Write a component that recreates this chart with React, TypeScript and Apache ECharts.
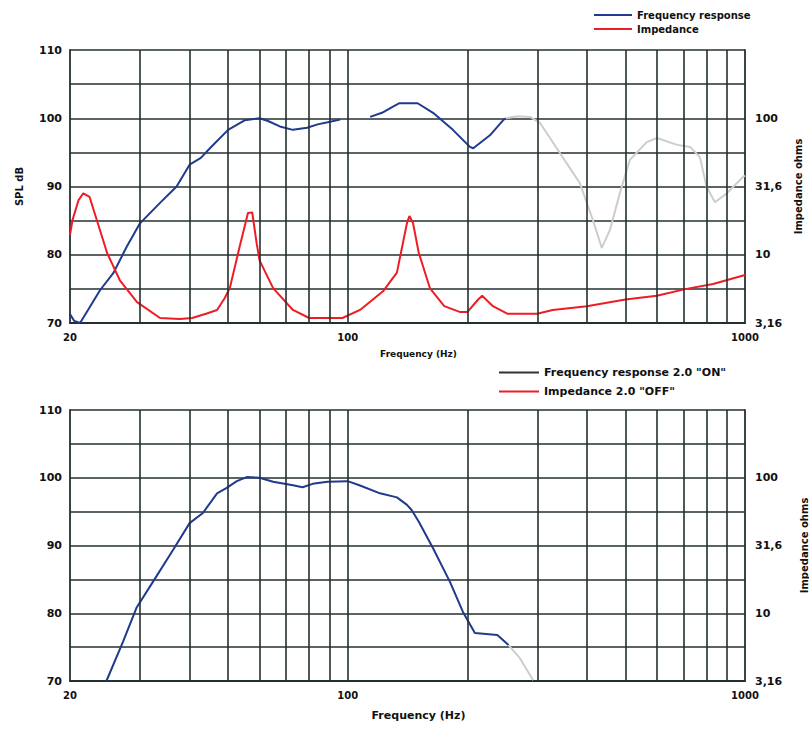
import React, { useEffect, useRef } from 'react';
import * as echarts from 'echarts';

// ---------- data ----------
const gridFreqs = [30, 40, 50, 60, 70, 80, 90, 100, 200, 300, 400, 500, 600, 700, 800, 900];
const impTickLabels = ['3,16', '10', '31,6', '100'];

// top panel: frequency response (blue part, null = gap)
const topSplFreq = [20, 20.5, 21.2, 22.2, 23.8, 25.7, 27.8, 30, 33.7, 37.1, 40, 42.7, 45, 50, 55, 60, 63, 67.5, 72.8, 79, 84, 89, 95.7, 104, 113.9, 122, 130, 135, 150, 164, 184, 203, 207, 228, 246, 250];
const topSplDb = [71.3, 70.3, 70.0, 71.9, 74.8, 77.3, 81.2, 84.6, 87.6, 90.0, 93.2, 94.2, 95.6, 98.3, 99.7, 100.0, 99.6, 98.8, 98.3, 98.6, 99.1, 99.4, 99.8, null, 100.2, 100.8, 101.7, 102.2, 102.2, 100.8, 98.3, 95.8, 95.6, 97.5, 99.7, 100.0];
// top panel: frequency response (grey part, above 250 Hz)
const topSplHiFreq = [250, 268, 288, 305, 342, 384, 414, 436, 457, 484, 513, 566, 600, 675, 727, 770, 800, 840, 900, 988, 1000];
const topSplHiDb = [100.0, 100.3, 100.2, 99.3, 94.9, 90.5, 85.1, 81.0, 83.6, 89.0, 93.9, 96.5, 97.1, 96.1, 95.8, 94.3, 90.0, 87.7, 89.0, 91.4, 91.6];
// top panel: impedance (ohms)
const topImpFreq = [20, 20.3, 21, 21.6, 22.4, 23.5, 24.8, 26.7, 29.5, 33.7, 37.8, 40.6, 44, 46.9, 49, 50.5, 53.4, 56.1, 57.5, 59, 60, 64.9, 72.8, 80, 97, 107.4, 122.7, 133, 141, 143, 146, 151, 161, 175, 192, 200, 213, 218, 232, 252, 300, 328, 400, 500, 600, 707, 831, 1000];
const topImpOhm = [14, 18, 25, 28.2, 26.5, 17, 10.3, 6.5, 4.5, 3.44, 3.38, 3.44, 3.7, 3.94, 4.8, 5.7, 11.3, 20.2, 20.4, 12.1, 9.1, 5.7, 3.94, 3.44, 3.44, 3.94, 5.4, 7.4, 17.1, 19.2, 17.1, 10.3, 5.7, 4.2, 3.8, 3.8, 4.7, 5.0, 4.2, 3.7, 3.7, 3.94, 4.2, 4.7, 5.0, 5.6, 6.1, 7.1];

// bottom panel: frequency response 2.0 "ON"
const botSplFreq = [24.7, 27.2, 29.4, 32.4, 36.3, 40, 43.2, 46.9, 49.6, 52.6, 55.7, 60, 64.9, 72.8, 77, 81.6, 89, 100, 107, 120.6, 133, 141, 145, 151, 164, 181, 195, 209, 238, 254];
const botSplDb = [70.0, 75.8, 80.8, 84.7, 89.3, 93.3, 94.8, 97.7, 98.5, 99.5, 100.1, 100.0, 99.4, 98.9, 98.6, 99.1, 99.4, 99.5, 98.9, 97.7, 97.1, 96.0, 95.2, 93.5, 89.6, 84.6, 80.2, 77.1, 76.8, 75.3];
const botSplHiFreq = [254, 271, 293];
const botSplHiDb = [75.3, 73.4, 70.1];

// ---------- styles ----------
const FONT = 'DejaVu Sans';
const GRID_COLOR = '#243030';
const BLUE = '#1f3a8f';
const RED = '#ee1d25';
const GREY = '#cdcdcd';

const zip = (f: number[], v: (number | null)[]) => f.map((x, i) => [x, v[i] === null ? '-' : v[i]]);

const impFormatter = (v: number) => {
  if (v < 5) return impTickLabels[0];
  if (v < 20) return impTickLabels[1];
  if (v < 60) return impTickLabels[2];
  if (v < 200) return impTickLabels[3];
  return '';
};

function makeX(gridIndex: number, nameSize: number, nameGap: number) {
  return {
    type: 'log',
    logBase: 10,
    gridIndex,
    min: 20,
    max: 1000,
    name: 'Frequency (Hz)',
    nameLocation: 'middle',
    nameGap,
    nameTextStyle: { fontFamily: FONT, fontWeight: 'bold', fontSize: nameSize, color: '#111', padding: [0, 0, 0, 22] },
    axisLine: { show: true, onZero: false, lineStyle: { color: GRID_COLOR, width: 1.8 } },
    axisTick: { show: false },
    splitLine: { show: false },
    minorSplitLine: { show: false },
    axisLabel: {
      fontFamily: FONT, fontWeight: 'bold', fontSize: 10, color: '#111', margin: 9,
      formatter: (v: number) => String(Math.round(v)),
    },
  };
}

function makeLeftY(gridIndex: number, name: string) {
  return {
    type: 'value',
    gridIndex,
    min: 70,
    max: 110,
    interval: 5,
    position: 'left',
    name,
    nameLocation: 'middle',
    nameGap: 46,
    nameTextStyle: { fontFamily: FONT, fontWeight: 'bold', fontSize: 10, color: '#111' },
    axisLine: { show: true, onZero: false, lineStyle: { color: GRID_COLOR, width: 1.8 } },
    axisTick: { show: false },
    splitLine: { show: true, lineStyle: { color: GRID_COLOR, width: 1.6 } },
    axisLabel: {
      fontFamily: FONT, fontWeight: 'bold', fontSize: 11, color: '#111', margin: 8,
      formatter: (v: number) => (v % 10 === 0 ? String(v) : ''),
    },
  };
}

function makeRightY(gridIndex: number, nameGap: number) {
  return {
    type: 'log',
    logBase: Math.sqrt(10),
    gridIndex,
    min: 3.16228,
    max: 316.228,
    splitNumber: 4,
    position: 'right',
    name: 'Impedance ohms',
    nameLocation: 'middle',
    nameGap,
    nameTextStyle: { fontFamily: FONT, fontWeight: 'bold', fontSize: 10, color: '#111' },
    axisLine: { show: true, onZero: false, lineStyle: { color: GRID_COLOR, width: 1.8 } },
    axisTick: { show: false },
    splitLine: { show: false },
    axisLabel: { fontFamily: FONT, fontWeight: 'bold', fontSize: 11, color: '#111', margin: 10, formatter: impFormatter },
  };
}

function gridLinesSeries(xAxisIndex: number, yAxisIndex: number) {
  return {
    type: 'line',
    xAxisIndex,
    yAxisIndex,
    data: [],
    z: 1,
    silent: true,
    markLine: {
      silent: true,
      symbol: ['none', 'none'],
      label: { show: false },
      lineStyle: { color: GRID_COLOR, width: 1.6, type: 'solid' },
      data: gridFreqs.map((f) => ({ xAxis: f })),
    },
  };
}

function lineSeries(name: string | undefined, xAxisIndex: number, yAxisIndex: number, data: any[], color: string, width = 2) {
  return {
    type: 'line',
    name,
    xAxisIndex,
    yAxisIndex,
    data,
    z: 3,
    symbol: 'none',
    showSymbol: false,
    connectNulls: false,
    lineStyle: { color, width },
    itemStyle: { color },
  };
}

export default function App() {
  const ref = useRef<HTMLDivElement>(null);
  useEffect(() => {
    if (!ref.current) return;
    const chart = echarts.init(ref.current, undefined, { renderer: 'svg' });
    const legendText = { fontFamily: FONT, fontWeight: 'bold', fontSize: 10, color: '#111' };
    chart.setOption({
      animation: false,
      backgroundColor: '#ffffff',
      textStyle: { fontFamily: FONT },
      legend: [
        {
          orient: 'vertical',
          left: 589,
          top: 5,
          icon: 'rect',
          itemWidth: 38,
          itemHeight: 2,
          itemGap: 4,
          textStyle: legendText,
          data: ['Frequency response', 'Impedance'],
        },
        {
          orient: 'vertical',
          left: 494,
          top: 362,
          icon: 'rect',
          itemWidth: 40,
          itemHeight: 2,
          itemGap: 8,
          textStyle: { ...legendText, fontSize: 11 },
          data: [
            { name: 'Frequency response 2.0 "ON"', itemStyle: { color: '#333' } },
            { name: 'Impedance 2.0 "OFF"' },
          ],
        },
      ],
      grid: [
        { left: 70, right: 64, top: 50, height: 273, outerBoundsMode: 'none', containLabel: false },
        { left: 70, right: 64, top: 410, height: 271, outerBoundsMode: 'none', containLabel: false },
      ],
      xAxis: [makeX(0, 9, 26), makeX(1, 11, 29)],
      yAxis: [makeLeftY(0, 'SPL dB'), makeRightY(0, 46), makeLeftY(1, ''), makeRightY(1, 54)],
      series: [
        gridLinesSeries(0, 0),
        lineSeries('Frequency response', 0, 0, zip(topSplFreq, topSplDb), BLUE),
        lineSeries(undefined, 0, 0, zip(topSplHiFreq, topSplHiDb), GREY),
        lineSeries('Impedance', 0, 1, zip(topImpFreq, topImpOhm), RED),
        gridLinesSeries(1, 2),
        lineSeries('Frequency response 2.0 "ON"', 1, 2, zip(botSplFreq, botSplDb), BLUE),
        lineSeries(undefined, 1, 2, zip(botSplHiFreq, botSplHiDb), GREY),
        lineSeries('Impedance 2.0 "OFF"', 1, 3, [], RED),
      ],
    });
    return () => chart.dispose();
  }, []);
  return <div ref={ref} style={{ position: 'fixed', left: 0, top: 0, width: 809, height: 733 }} />;
}
